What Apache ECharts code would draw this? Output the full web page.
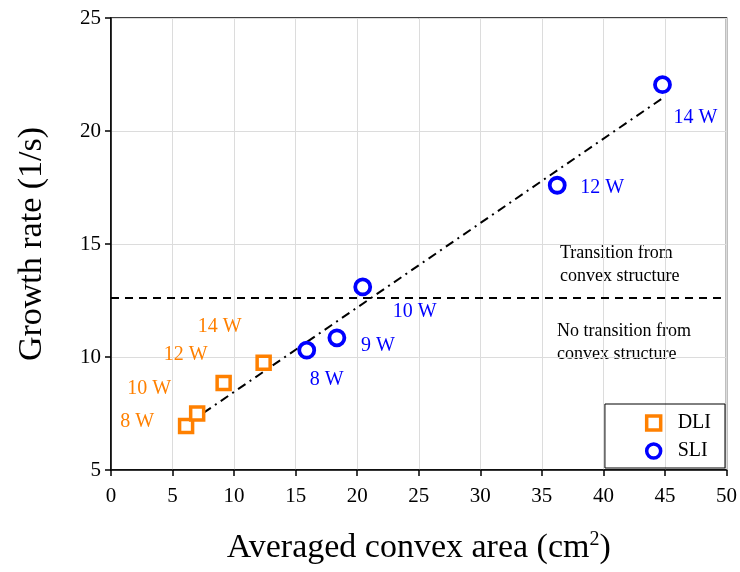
<!DOCTYPE html>
<html><head><meta charset="utf-8">
<script src="https://cdn.jsdelivr.net/npm/echarts@6/dist/echarts.min.js"></script>
<style>html,body{margin:0;padding:0;background:#fff}#c{width:740px;height:572px}</style>
</head><body><div id="c"></div>
<script>
// data
const dliX = [6.1, 7.0, 9.15, 12.4];
const dliY = [6.95, 7.5, 8.85, 9.75];
const dliLabels = ['8 W', '10 W', '12 W', '14 W'];
const sliX = [15.9, 18.35, 20.45, 36.25, 44.8];
const sliY = [10.3, 10.85, 13.1, 17.6, 22.05];
const sliLabels = ['8 W', '9 W', '10 W', '12 W', '14 W'];
const fitX = [6.1, 44.8];
const fitY = [7.0, 21.45];
const thresholdY = 12.6;
const xTicks = [0, 5, 10, 15, 20, 25, 30, 35, 40, 45, 50];
const yTicks = [5, 10, 15, 20, 25];

// label layout (pixel offsets from marks)
const dliOff = [[-49, -4], [-48, -25], [-38, -28], [-44, -36]];
const sliOff = [[20, 30], [41, 8], [52, 25], [45, 3], [33, 33]];

const FONT = '"Liberation Serif","Times New Roman",serif';
const ORANGE = '#FF8000';
const BLUE = '#0000FF';

const chart = echarts.init(document.getElementById('c'));
const mk = (xs, ys, labs, offs, color) => xs.map((x, i) => ({
  value: [x, ys[i]],
  label: { show: true, formatter: labs[i], position: 'inside', offset: offs[i], color: color, fontFamily: FONT, fontSize: 20 }
}));

chart.setOption({
  animation: false,
  grid: { left: 111, right: 13, top: 18, bottom: 102, show: true, borderColor: '#000', borderWidth: 1.5 },
  xAxis: {
    type: 'value', min: xTicks[0], max: xTicks[xTicks.length - 1], interval: 5,
    axisLine: { lineStyle: { color: '#000', width: 1.5 } },
    axisTick: { show: true, length: 6, lineStyle: { color: '#000', width: 1.5 } },
    axisLabel: { color: '#000', fontFamily: FONT, fontSize: 21, margin: 16 },
    splitLine: { show: true, lineStyle: { color: '#dcdcdc', width: 1 } },
    name: '{a|Averaged convex area (cm}{s|2}{a|)}',
    nameLocation: 'middle', nameGap: 60,
    nameTextStyle: { rich: { a: { fontFamily: FONT, fontSize: 34, color: '#000' }, s: { fontFamily: FONT, fontSize: 20, color: '#000', verticalAlign: 'top', padding: [0, 0, 16, 0] } } }
  },
  yAxis: {
    type: 'value', min: yTicks[0], max: yTicks[yTicks.length - 1], interval: 5,
    axisLine: { show: true, lineStyle: { color: '#000', width: 1.5 } },
    axisTick: { show: true, length: 6, lineStyle: { color: '#000', width: 1.5 } },
    axisLabel: { color: '#000', fontFamily: FONT, fontSize: 21, margin: 10 },
    splitLine: { show: true, lineStyle: { color: '#dcdcdc', width: 1 } },
    name: 'Growth rate (1/s)', nameLocation: 'middle', nameGap: 62,
    nameTextStyle: { fontFamily: FONT, fontSize: 34, color: '#000' }
  },
  legend: {
    orient: 'vertical', right: 15, bottom: 104,
    borderColor: '#000', borderWidth: 1, borderRadius: 0,
    padding: [9, 14, 7, 40], itemGap: 8, itemWidth: 14, itemHeight: 14,
    itemStyle: { borderWidth: 3.5 },
    textStyle: { fontFamily: FONT, fontSize: 20, color: '#000', padding: [0, 0, 0, 12] },
    data: ['DLI', 'SLI']
  },
  graphic: [
    { type: 'text', left: 560, top: 242, style: { text: 'Transition from\nconvex structure', font: '18px ' + FONT, fill: '#000', lineHeight: 23 } },
    { type: 'text', left: 557, top: 320, style: { text: 'No transition from\nconvex structure', font: '18px ' + FONT, fill: '#000', lineHeight: 23 } }
  ],
  series: [
    {
      name: 'fit', type: 'line', data: fitX.map((x, i) => [x, fitY[i]]), symbol: 'none',
      lineStyle: { color: '#000', width: 2, type: [9, 5, 2, 5] }, z: 1,
      markLine: {
        silent: true, symbol: 'none', label: { show: false },
        lineStyle: { color: '#000', width: 2, type: [8, 6] },
        data: [{ yAxis: thresholdY }]
      }
    },
    {
      name: 'DLI', type: 'scatter', symbol: 'rect', symbolSize: 13,
      itemStyle: { color: '#fff', borderColor: ORANGE, borderWidth: 3.5, opacity: 1 },
      data: mk(dliX, dliY, dliLabels, dliOff, ORANGE), z: 3
    },
    {
      name: 'SLI', type: 'scatter', symbol: 'circle', symbolSize: 15,
      itemStyle: { color: '#fff', borderColor: BLUE, borderWidth: 3.8, opacity: 1 },
      data: mk(sliX, sliY, sliLabels, sliOff, BLUE), z: 3
    }
  ]
});
</script></body></html>
